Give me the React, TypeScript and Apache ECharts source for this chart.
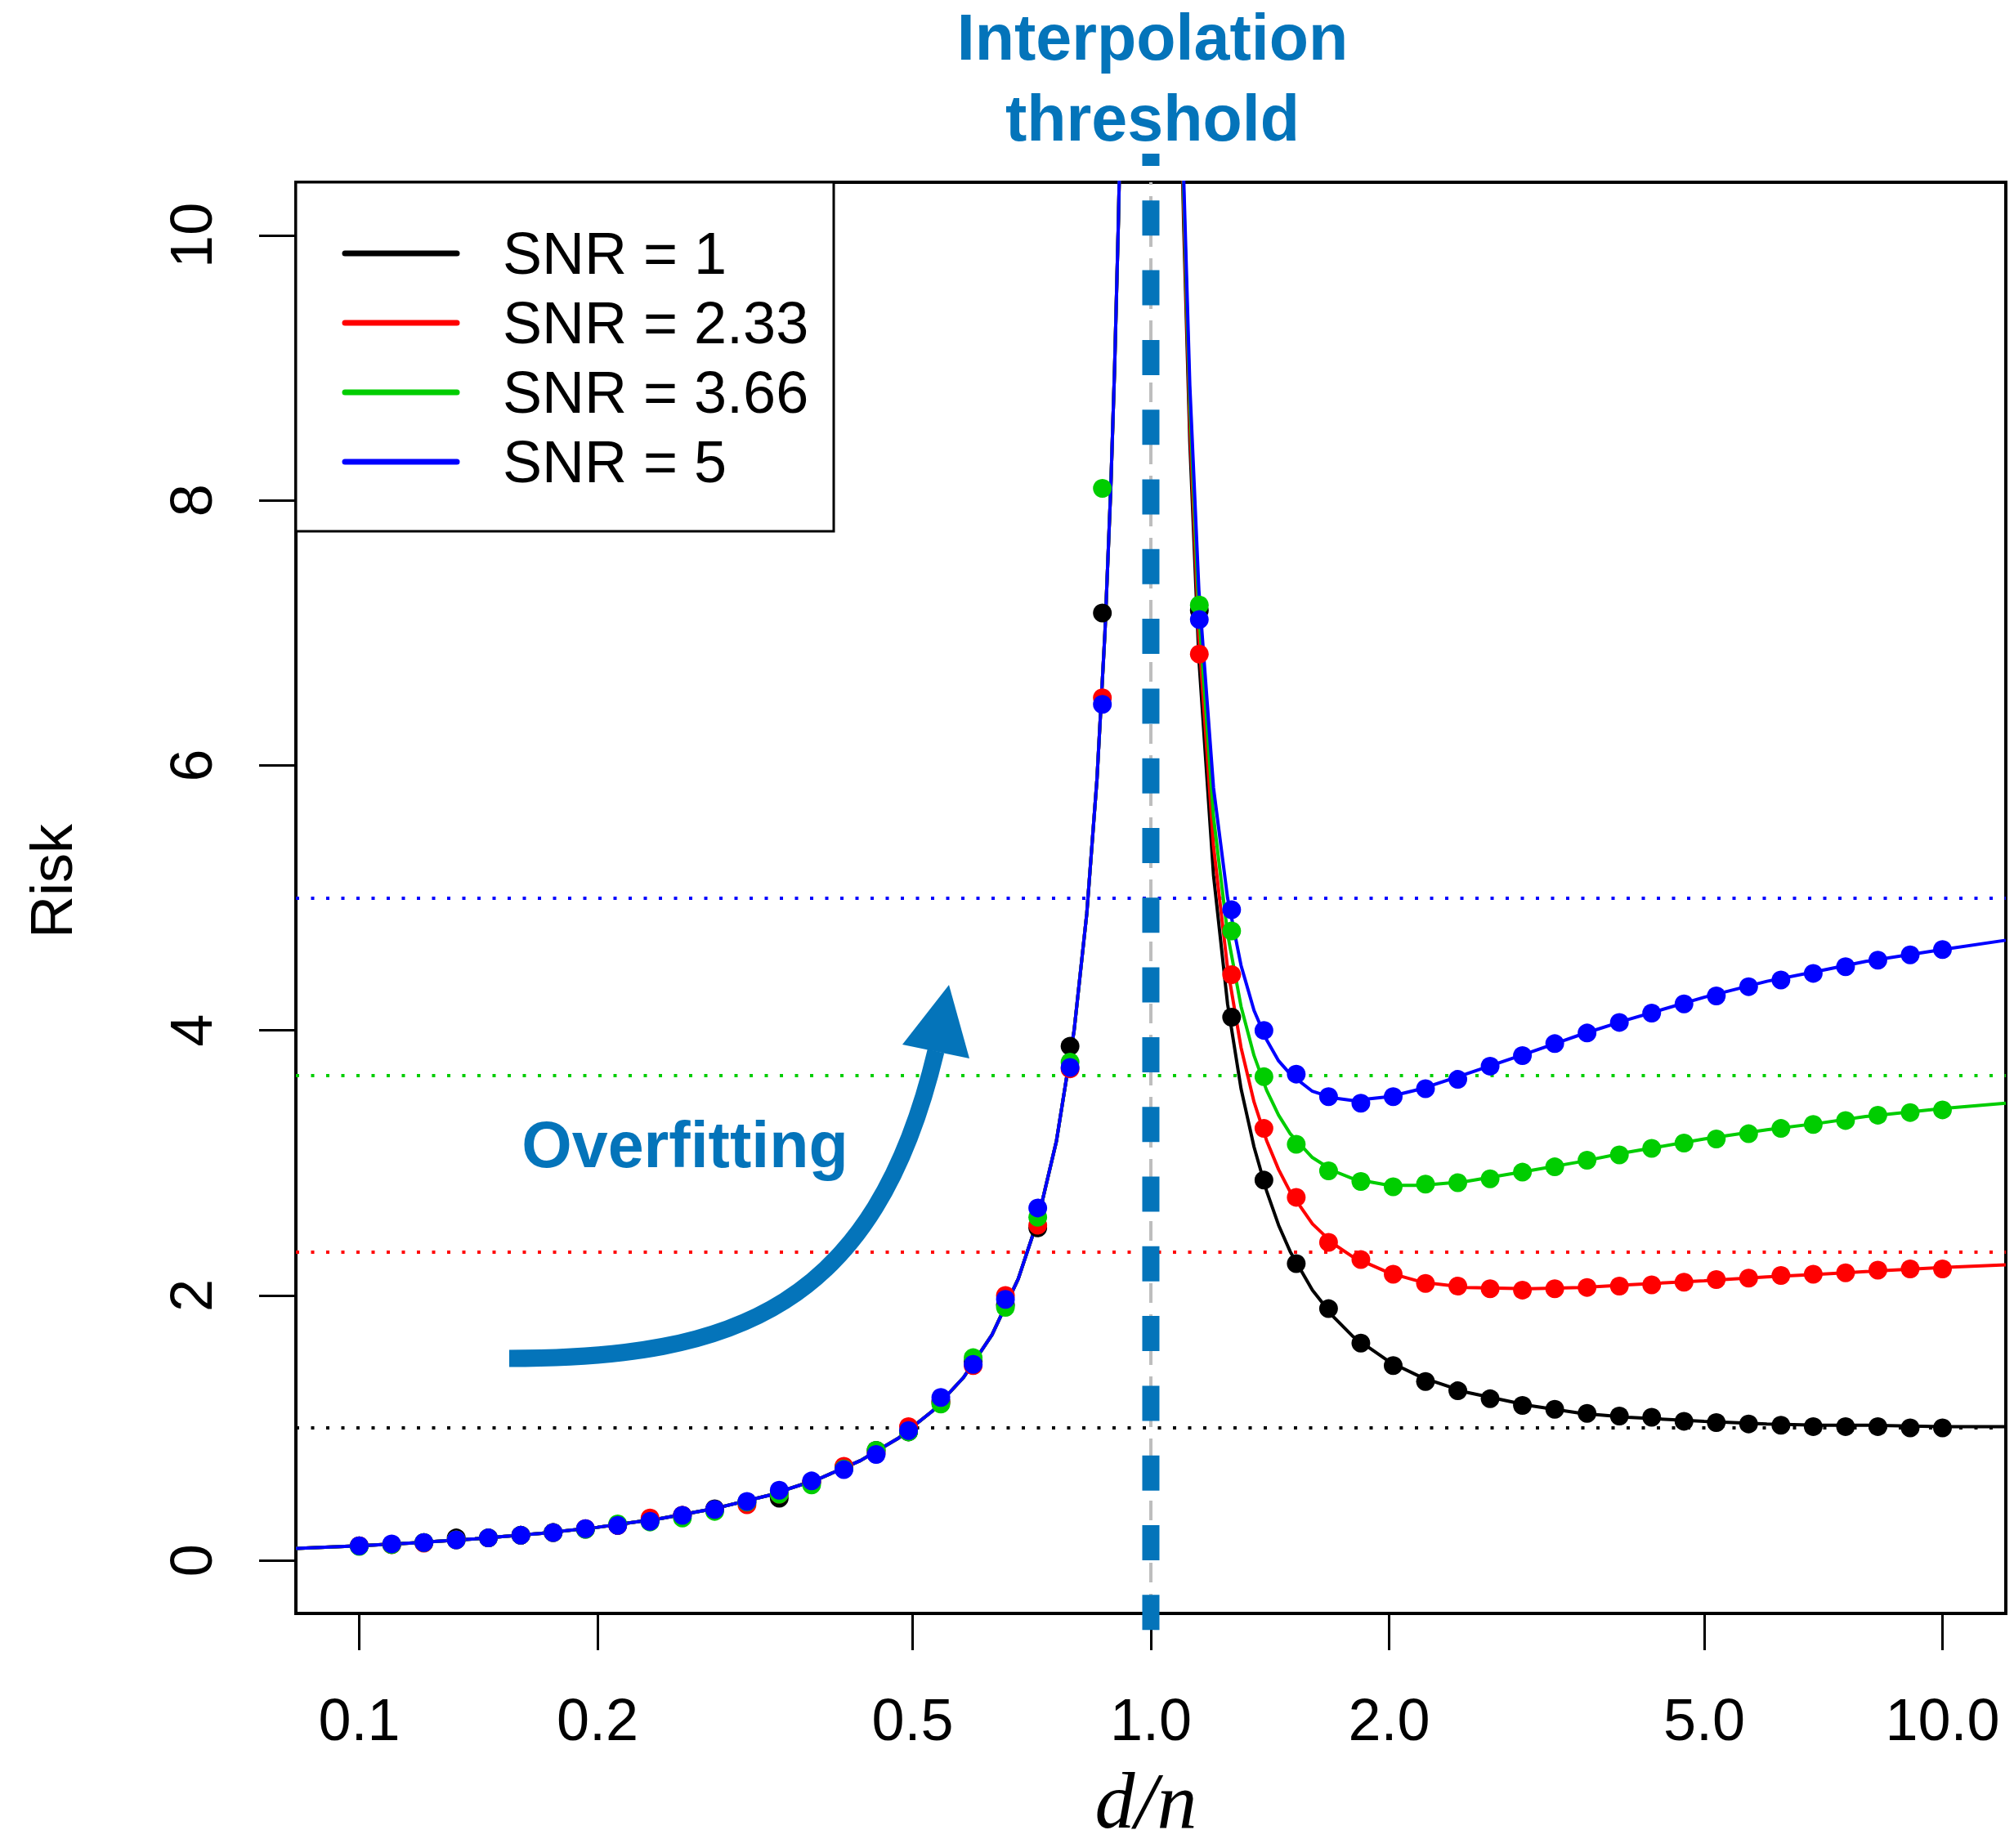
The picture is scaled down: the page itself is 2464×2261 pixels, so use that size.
import React, { useEffect, useRef } from 'react';
import * as echarts from 'echarts';

// ---------- data ----------
const X_TICKS = [0.1, 0.2, 0.5, 1, 2, 5, 10];
const Y_TICKS = [0, 2, 4, 6, 8, 10];
const SNR_LABELS = ['SNR = 1', 'SNR = 2.33', 'SNR = 3.66', 'SNR = 5'];
const SNR_VALUES = [1, 2.33, 3.66, 5];
const COLORS = ['#000000', '#FF0000', '#00CD00', '#0000FF'];
const ANNOT_BLUE = '#0474BA';

// simulated points (d/n)
const X_POINTS = [
  0.1, 0.1099, 0.1207, 0.1326, 0.1456, 0.16, 0.1758, 0.1931, 0.2121, 0.233, 0.256, 0.2812,
  0.3089, 0.3393, 0.3728, 0.4095, 0.4498, 0.4942, 0.5429, 0.5964, 0.6551, 0.7197, 0.7906, 0.8685,
  1.1514, 1.2649, 1.3895, 1.5264, 1.6768, 1.842, 2.0236, 2.223, 2.4421, 2.6827, 2.9471, 3.2375,
  3.5565, 3.9069, 4.2919, 4.7149, 5.1795, 5.6899, 6.2506, 6.8665, 7.5431, 8.2864, 9.103, 10.0,
];
const RISK_SNR1 = [
  0.11, 0.12, 0.135, 0.17, 0.17, 0.19, 0.21, 0.235, 0.265, 0.3, 0.34, 0.39,
  0.44, 0.47, 0.59, 0.7, 0.83, 0.97, 1.2, 1.5, 1.93, 2.51, 3.88, 7.15,
  7.17, 4.1, 2.87, 2.24, 1.9, 1.64, 1.47, 1.35, 1.28, 1.22, 1.17, 1.14,
  1.11, 1.09, 1.08, 1.05, 1.04, 1.03, 1.02, 1.01, 1.01, 1.01, 1.0, 1.0,
];
const RISK_SNR233 = [
  0.11, 0.12, 0.13, 0.155, 0.17, 0.19, 0.21, 0.24, 0.265, 0.32, 0.34, 0.38,
  0.42, 0.5, 0.59, 0.71, 0.81, 1.01, 1.19, 1.47, 2.0, 2.53, 3.71, 6.51,
  6.84, 4.42, 3.26, 2.74, 2.4, 2.27, 2.16, 2.09, 2.07, 2.05, 2.04, 2.05,
  2.06, 2.07, 2.08, 2.1, 2.12, 2.13, 2.15, 2.16, 2.17, 2.19, 2.2, 2.2,
];
const RISK_SNR366 = [
  0.105, 0.12, 0.135, 0.155, 0.17, 0.19, 0.21, 0.235, 0.275, 0.29, 0.32, 0.37,
  0.44, 0.5, 0.57, 0.69, 0.83, 0.97, 1.18, 1.53, 1.91, 2.59, 3.76, 8.09,
  7.21, 4.75, 3.65, 3.14, 2.94, 2.86, 2.82, 2.84, 2.85, 2.88, 2.93, 2.97,
  3.02, 3.06, 3.11, 3.15, 3.18, 3.22, 3.26, 3.29, 3.32, 3.36, 3.38, 3.4,
];
const RISK_SNR5 = [
  0.11, 0.125, 0.135, 0.155, 0.17, 0.19, 0.21, 0.24, 0.265, 0.295, 0.34, 0.385,
  0.445, 0.53, 0.6, 0.685, 0.8, 0.98, 1.23, 1.48, 1.97, 2.66, 3.72, 6.46,
  7.1, 4.91, 4.0, 3.67, 3.5, 3.45, 3.5, 3.56, 3.63, 3.73, 3.81, 3.9,
  3.98, 4.06, 4.13, 4.2, 4.26, 4.33, 4.38, 4.43, 4.48, 4.53, 4.57, 4.61,
];
const RISK_POINTS = [RISK_SNR1, RISK_SNR233, RISK_SNR366, RISK_SNR5];

// theoretical curves
const CURVE_X_LEFT = [
  0.0832, 0.1, 0.12, 0.14, 0.17, 0.2, 0.24, 0.28, 0.33, 0.38, 0.43, 0.48, 0.53,
  0.58, 0.63, 0.68, 0.72, 0.76, 0.8, 0.83, 0.855, 0.875, 0.89, 0.9, 0.91, 0.92,
];
const CURVE_LEFT = [
  0.091, 0.111, 0.136, 0.163, 0.205, 0.25, 0.316, 0.389, 0.493, 0.613, 0.754, 0.923, 1.128,
  1.381, 1.703, 2.125, 2.571, 3.167, 4.0, 4.882, 5.897, 7.0, 8.091, 9.0, 10.11, 11.5,
];
const CURVE_X_RIGHT = [
  1.08, 1.09, 1.1, 1.12, 1.15, 1.2, 1.25, 1.3, 1.35, 1.4, 1.45, 1.5, 1.6, 1.7,
  1.8, 2.0, 2.2, 2.5, 3, 3.5, 4, 5, 6, 7, 8, 10, 12.02,
];
const CURVE_RIGHT_SNR1 = [
  12.57, 11.19, 10.09, 8.44, 6.8, 5.17, 4.2, 3.56, 3.12, 2.79, 2.53, 2.33, 2.04, 1.84,
  1.69, 1.5, 1.38, 1.27, 1.17, 1.11, 1.08, 1.05, 1.03, 1.02, 1.02, 1.01, 1.01,
];
const CURVE_RIGHT_SNR233 = [
  12.67, 11.3, 10.21, 8.58, 6.97, 5.39, 4.47, 3.87, 3.46, 3.17, 2.95, 2.78, 2.54, 2.39,
  2.29, 2.17, 2.1, 2.06, 2.05, 2.06, 2.08, 2.11, 2.14, 2.16, 2.18, 2.21, 2.23,
];
const CURVE_RIGHT_SNR366 = [
  12.77, 11.41, 10.33, 8.73, 7.14, 5.61, 4.73, 4.18, 3.81, 3.55, 3.36, 3.22, 3.04, 2.94,
  2.88, 2.83, 2.83, 2.86, 2.94, 3.01, 3.08, 3.18, 3.25, 3.3, 3.35, 3.41, 3.45,
];
const CURVE_RIGHT_SNR5 = [
  12.87, 11.52, 10.45, 8.87, 7.32, 5.83, 5.0, 4.49, 4.15, 3.93, 3.77, 3.67, 3.54, 3.49,
  3.47, 3.5, 3.56, 3.67, 3.83, 3.97, 4.08, 4.25, 4.37, 4.45, 4.52, 4.61, 4.68,
];
const CURVE_RIGHT = [CURVE_RIGHT_SNR1, CURVE_RIGHT_SNR233, CURVE_RIGHT_SNR366, CURVE_RIGHT_SNR5];

const FONT = 'Liberation Sans, Arial, Helvetica, sans-serif';

export default function App() {
  const ref = useRef<HTMLDivElement>(null);

  useEffect(() => {
    const chart = echarts.init(ref.current as HTMLDivElement, null, { renderer: 'svg' });

    const lineSeries = SNR_LABELS.map((name, i) => ({
      type: 'line',
      name,
      z: 2,
      symbol: 'none',
      showSymbol: false,
      connectNulls: false,
      clip: true,
      silent: true,
      lineStyle: { color: COLORS[i], width: 4 },
      itemStyle: { color: COLORS[i] },
      data: [
        ...CURVE_X_LEFT.map((x, j) => [x, CURVE_LEFT[j]]),
        [1, '-'],
        ...CURVE_X_RIGHT.map((x, j) => [x, CURVE_RIGHT[i][j]]),
      ],
      markLine: {
        silent: true,
        z: 1,
        symbol: ['none', 'none'],
        label: { show: false },
        lineStyle: { color: COLORS[i], type: [4, 14.5], width: 4, opacity: 1 },
        emphasis: { disabled: true },
        data: [{ yAxis: SNR_VALUES[i] }],
      },
    }));

    const scatterSeries = SNR_LABELS.map((name, i) => ({
      type: 'scatter',
      name,
      z: 3,
      silent: true,
      symbol: 'circle',
      symbolSize: 23,
      itemStyle: { color: COLORS[i], opacity: 1 },
      data: X_POINTS.map((x, j) => [x, RISK_POINTS[i][j]]),
      ...(i === 0
        ? {
            markLine: {
              silent: true,
              z: 1,
              symbol: ['none', 'none'],
              label: { show: false },
              lineStyle: { color: '#BEBEBE', type: [24, 14], width: 4, opacity: 1 },
              data: [{ xAxis: 1 }],
            },
          }
        : {}),
    }));

    const axisLine = { show: true, onZero: false, lineStyle: { color: '#000', width: 4 } };

    chart.setOption({
      animation: false,
      backgroundColor: '#ffffff',
      grid: {
        left: 362,
        right: 10,
        top: 223,
        bottom: 287,
        show: true,
        borderColor: '#000',
        borderWidth: 4,
        backgroundColor: 'transparent',
        containLabel: false,
        outerBoundsMode: 'none',
      },
      xAxis: {
        type: 'log',
        logBase: 10,
        min: 0.08318,
        max: 12.023,
        axisLine,
        axisTick: {
          show: true,
          customValues: X_TICKS,
          length: 45,
          lineStyle: { color: '#000', width: 3 },
        },
        axisLabel: {
          customValues: X_TICKS,
          formatter: (v: number) => Number(v).toFixed(1),
          fontSize: 72,
          fontFamily: FONT,
          color: '#000',
          margin: 94,
        },
        splitLine: { show: false },
        minorTick: { show: false },
        minorSplitLine: { show: false },
      },
      yAxis: {
        type: 'value',
        min: -0.4,
        max: 10.4,
        axisLine,
        axisTick: {
          show: true,
          customValues: Y_TICKS,
          length: 45,
          lineStyle: { color: '#000', width: 3 },
        },
        axisLabel: {
          customValues: Y_TICKS,
          rotate: 90,
          fontSize: 72,
          fontFamily: FONT,
          color: '#000',
          margin: 92,
        },
        splitLine: { show: false },
      },
      series: [...lineSeries, ...scatterSeries],
    });

    const px = chart.convertToPixel({ xAxisIndex: 0 }, 1) as number;

    const legendEls: any[] = [
      {
        type: 'rect',
        z: 50,
        shape: { x: 362, y: 223, width: 658, height: 427 },
        style: { fill: '#ffffff', stroke: '#000', lineWidth: 3 },
      },
    ];
    SNR_LABELS.forEach((label, i) => {
      const y = 310 + 85 * i;
      legendEls.push({
        type: 'line',
        z: 51,
        shape: { x1: 422, y1: y, x2: 559, y2: y },
        style: { stroke: COLORS[i], lineWidth: 7, lineCap: 'round' },
      });
      legendEls.push({
        type: 'text',
        z: 51,
        x: 615,
        y,
        style: {
          text: label,
          fill: '#000',
          fontSize: 72,
          fontFamily: FONT,
          align: 'left',
          verticalAlign: 'middle',
        },
      });
    });

    chart.setOption({
      graphic: {
        elements: [
          ...legendEls,
          {
            type: 'line',
            z: 100,
            shape: { x1: px, y1: 188, x2: px, y2: 1996 },
            style: { stroke: ANNOT_BLUE, lineWidth: 21, lineDash: [43, 42.3], lineDashOffset: 28 },
          },
          {
            type: 'text',
            z: 100,
            x: 1410,
            y: 45,
            style: {
              text: 'Interpolation',
              fill: ANNOT_BLUE,
              fontSize: 79,
              fontWeight: 'bold',
              fontFamily: FONT,
              align: 'center',
              verticalAlign: 'middle',
            },
          },
          {
            type: 'text',
            z: 100,
            x: 1410,
            y: 144,
            style: {
              text: 'threshold',
              fill: ANNOT_BLUE,
              fontSize: 79,
              fontWeight: 'bold',
              fontFamily: FONT,
              align: 'center',
              verticalAlign: 'middle',
            },
          },
          {
            type: 'text',
            z: 100,
            x: 838,
            y: 1400,
            style: {
              text: 'Overfitting',
              fill: ANNOT_BLUE,
              fontSize: 79,
              fontWeight: 'bold',
              fontFamily: FONT,
              align: 'center',
              verticalAlign: 'middle',
            },
          },
          {
            type: 'bezierCurve',
            z: 100,
            shape: { x1: 623, y1: 1662, cpx1: 900, cpy1: 1662, cpx2: 1070, cpy2: 1600, x2: 1145, y2: 1286 },
            style: { stroke: ANNOT_BLUE, lineWidth: 21, fill: 'none', lineCap: 'butt' },
          },
          {
            type: 'polygon',
            z: 100,
            shape: { points: [[1161, 1205], [1104, 1278], [1186, 1295]] },
            style: { fill: ANNOT_BLUE },
          },
          {
            type: 'text',
            z: 100,
            x: 63,
            y: 1078,
            rotation: Math.PI / 2,
            style: {
              text: 'Risk',
              fill: '#000',
              fontSize: 72,
              fontFamily: FONT,
              align: 'center',
              verticalAlign: 'middle',
            },
          },
          {
            type: 'text',
            z: 100,
            x: 1402,
            y: 2203,
            style: {
              text: 'd/n',
              fill: '#000',
              fontSize: 98,
              fontStyle: 'italic',
              fontFamily: 'Liberation Serif, DejaVu Serif, serif',
              align: 'center',
              verticalAlign: 'middle',
            },
          },
        ],
      },
    });

    return () => {
      chart.dispose();
    };
  }, []);

  return (
    <div
      ref={ref}
      style={{ position: 'absolute', left: 0, top: 0, width: 2464, height: 2261, background: '#fff' }}
    />
  );
}
